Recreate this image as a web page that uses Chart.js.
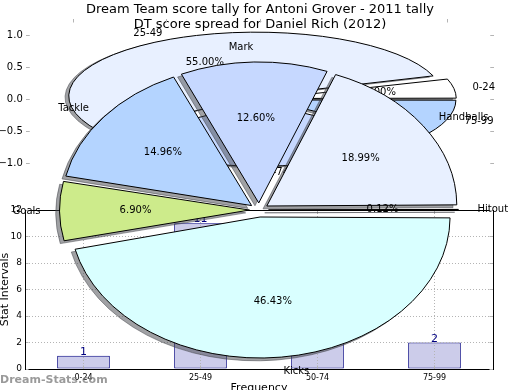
<!DOCTYPE html>
<html><head><meta charset="utf-8">
<script src="https://cdn.jsdelivr.net/npm/chart.js@4/dist/chart.umd.min.js"></script>
<style>
html,body{margin:0;padding:0;background:#fff;}
#wrap{position:relative;width:520px;height:390px;overflow:hidden;}
#wrap canvas{position:absolute;left:0;top:0;}
</style></head><body>
<div id="wrap">
<canvas id="bar" width="520" height="390"></canvas>
<canvas id="pie1" width="520" height="390"></canvas>
<canvas id="pie2" width="520" height="390"></canvas>
</div>
<script>
// ---- data ----
const titleMain = 'Dream Team score tally for Antoni Grover - 2011 tally';
const titleSub = 'DT score spread for Daniel Rich (2012)';
const intervals = ['0-24', '25-49', '50-74', '75-99'];
const tallyCounts = [1, 11, 6, 2];
const statNames = ['Hitout', 'Handballs', 'Mark', 'Tackle', 'Goals', 'Kicks'];
const statShares = [0.12, 18.99, 12.60, 14.96, 6.90, 46.43];
const barTicks = [0, 2, 4, 6, 8, 10, 12];
const pieTicks = [-1, -0.5, 0, 0.5, 1];
const watermark = 'Dream-Stats.com';

// ---- style ----
const tallyColors = ['#ffffff', '#e8f0ff', '#c6d8ff', '#b4d4ff'];
const statColors = ['#ffffff', '#e8f0ff', '#c6d8ff', '#b4d4ff', '#cdeb8b', '#d9ffff'];
const FONT = "'DejaVu Sans', sans-serif";
Chart.defaults.font.family = FONT;
Chart.defaults.color = '#000';
const R0 = 100, EXPLODE = 0.05, SHADOW = 0.02;
const GRAY = '#b4b4b4';

function ellipsePie(geomFn) {
  return {
    id: 'ellipsePie',
    beforeDatasetsDraw(chart) {
      const ctx = chart.ctx;
      const meta = chart.getDatasetMeta(0);
      const arcs = meta.data;
      const ds = chart.data.datasets[0];
      const total = ds.data.reduce((a, b) => a + b, 0);
      const g = geomFn(chart);
      const R = meta.controller.outerRadius;
      arcs.forEach(a => {
        const circ = a.endAngle - a.startAngle;
        const off = (a.options.offset || 0) / 4;
        a.outerRadius = R - off * (1 - Math.sin(Math.min(Math.PI, circ)));
      });
      const origStroke = ctx.stroke;
      ctx.stroke = function (...args) { this.save(); this.setTransform(1, 0, 0, 1, 0, 0); origStroke.apply(this, args); this.restore(); };
      const toEllipse = () => {
        ctx.translate(g.cx, g.cy);
        ctx.scale(g.rx / R, -g.ry / R);
        ctx.translate(-arcs[0].x, -arcs[0].y);
      };
      // shadows (all behind wedges)
      ctx.save();
      ctx.shadowColor = 'rgba(66,68,74,0.5)';
      ctx.shadowBlur = 0;
      ctx.shadowOffsetX = 10000 - SHADOW * g.rx;
      ctx.shadowOffsetY = SHADOW * g.ry;
      ctx.translate(-10000, 0);
      toEllipse();
      arcs.forEach(a => a.draw(ctx));
      ctx.restore();
      // wedges
      ctx.save();
      toEllipse();
      arcs.forEach(a => a.draw(ctx));
      ctx.restore();
      delete ctx.stroke;
      // labels
      ctx.save();
      ctx.font = '10px ' + FONT;
      ctx.fillStyle = '#000';
      ctx.textBaseline = 'middle';
      arcs.forEach((a, i) => {
        const mid = (a.startAngle + a.endAngle) / 2;
        const E = (a.options.offset || 0) / 4;
        const c = Math.cos(mid), s = Math.sin(mid);
        const at = f => [g.cx + g.rx / R * (E + f * R) * c, g.cy - g.ry / R * (E + f * R) * s];
        const [lx, ly] = at(1.1);
        ctx.textAlign = c > -1e-9 ? 'left' : 'right';
        ctx.fillText(chart.data.labels[i], lx, ly);
        const [px, py] = at(0.6);
        ctx.textAlign = 'center';
        ctx.fillText((ds.data[i] / total * 100).toFixed(2) + '%', px, py);
      });
      ctx.restore();
      return false;
    }
  };
}

// ---- bar chart ----
const barDecor = {
  id: 'barDecor',
  afterDraw(chart) {
    const ctx = chart.ctx;
    const meta = chart.getDatasetMeta(0);
    ctx.save();
    ctx.font = '11px ' + FONT;
    ctx.fillStyle = '#000080';
    ctx.textAlign = 'center';
    ctx.textBaseline = 'alphabetic';
    meta.data.forEach((b, i) => ctx.fillText(String(chart.data.datasets[0].data[i]), b.x, b.y - 1));
    ctx.font = 'bold 11px ' + FONT;
    ctx.fillStyle = 'rgba(120,120,120,0.75)';
    ctx.textAlign = 'left';
    ctx.textBaseline = 'middle';
    ctx.fillText(watermark, 0, 380);
    ctx.font = '13px ' + FONT;
    ctx.fillStyle = '#000';
    ctx.textAlign = 'center';
    ctx.fillText(titleMain, 260, 10);
    ctx.fillText(titleSub, 260, 25);
    ctx.restore();
  }
};

new Chart(document.getElementById('bar'), {
  type: 'bar',
  data: {
    labels: intervals,
    datasets: [{
      data: tallyCounts, backgroundColor: '#ccccea', borderColor: '#000080',
      borderWidth: 1, borderSkipped: false, barPercentage: 0.45, categoryPercentage: 1
    }]
  },
  options: {
    responsive: false, animation: false, events: [],
    layout: { padding: 0 },
    plugins: { legend: { display: false }, tooltip: { enabled: false }, title: { display: false } },
    scales: {
      x: {
        position: 'bottom',
        afterFit: s => { s.height = 21; },
        grid: { offset: false, drawTicks: true, tickLength: -3.5, color: GRAY, tickColor: GRAY, z: 1 },
        border: { display: true, color: '#000', dash: [1, 2], z: 1 },
        ticks: { font: { size: 8 }, color: '#000', padding: 7.5, maxRotation: 0, z: 1 },
        title: { display: true, text: 'Frequency', font: { size: 11 }, color: '#000', padding: { top: 0, bottom: -5 } }
      },
      xTop: {
        type: 'category', position: 'top',
        afterFit: s => { s.height = 210; },
        grid: { offset: false, drawOnChartArea: false, drawTicks: true, tickLength: -3.5, color: GRAY, z: 1 },
        ticks: { display: false },
        border: { display: true, color: '#000', z: 1 }
      },
      y: {
        position: 'left', min: 0, max: 12,
        afterFit: s => { s.width = 25; },
        afterBuildTicks: s => { s.ticks = barTicks.map(v => ({ value: v })); },
        grid: {
          drawTicks: true, tickLength: -3.5, tickColor: GRAY, z: 1,
          color: c => (c.tick && (c.tick.value === 0 || c.tick.value === 12)) ? 'rgba(0,0,0,0)' : GRAY
        },
        border: { display: true, color: '#000', dash: [1, 2], z: 1 },
        ticks: { font: { size: 9 }, color: '#000', padding: 6.5, z: 1 },
        title: { display: true, text: 'Stat Intervals', font: { size: 11 }, color: '#000', padding: { top: -1, bottom: 0 } }
      },
      yRight: {
        type: 'linear', position: 'right', min: 0, max: 12,
        afterFit: s => { s.width = 27; },
        afterBuildTicks: s => { s.ticks = barTicks.map(v => ({ value: v })); },
        grid: { drawOnChartArea: false, drawTicks: true, tickLength: -3.5, color: GRAY, z: 1 },
        ticks: { display: false },
        border: { display: true, color: '#000', z: 1 }
      }
    }
  },
  plugins: [barDecor]
});

// ---- pie 1 (tally) ----
new Chart(document.getElementById('pie1'), {
  type: 'pie',
  data: {
    labels: intervals,
    datasets: [{
      data: tallyCounts, backgroundColor: tallyColors, borderColor: '#000', borderWidth: 1,
      offset: 4 * EXPLODE * R0, radius: R0, rotation: 90, clip: false
    }]
  },
  options: {
    responsive: false, animation: false, events: [],
    layout: { padding: { bottom: 211 } },
    plugins: { legend: { display: false }, tooltip: { enabled: false }, title: { display: false } },
    scales: {
      x: {
        type: 'linear', position: 'top', min: -1.25, max: 1.25,
        afterFit: s => { s.height = 19; },
        afterBuildTicks: s => { s.ticks = pieTicks.map(v => ({ value: v })); },
        ticks: { display: false },
        grid: { drawOnChartArea: false, drawTicks: true, tickLength: -3.5, color: GRAY, tickColor: GRAY },
        border: { display: false }
      },
      y: {
        type: 'linear', position: 'left', min: -1.25, max: 1.25,
        afterFit: s => { s.width = 26.25; },
        afterBuildTicks: s => { s.ticks = pieTicks.map(v => ({ value: v })); },
        ticks: { font: { size: 10 }, color: '#000', padding: 7, callback: v => (v < 0 ? '\u2212' : '') + Math.abs(v).toFixed(1) },
        grid: { drawOnChartArea: false, drawTicks: true, tickLength: -3.5, color: GRAY, tickColor: GRAY },
        border: { display: false }
      },
      y2: {
        type: 'linear', position: 'right', min: -1.25, max: 1.25,
        afterFit: s => { s.width = 26.25; },
        afterBuildTicks: s => { s.ticks = pieTicks.map(v => ({ value: v })); },
        ticks: { display: false },
        grid: { drawOnChartArea: false, drawTicks: true, tickLength: -3.5, color: GRAY, tickColor: GRAY },
        border: { display: false }
      }
    }
  },
  plugins: [ellipsePie(chart => {
    const x = chart.scales.x, y = chart.scales.y;
    const cx = x.getPixelForValue(0), cy = y.getPixelForValue(0);
    return { cx, cy, rx: x.getPixelForValue(1) - cx, ry: cy - y.getPixelForValue(1) };
  })]
});

// ---- pie 2 (stat spread) ----
new Chart(document.getElementById('pie2'), {
  type: 'pie',
  data: {
    labels: statNames,
    datasets: [{
      data: statShares, backgroundColor: statColors, borderColor: '#000', borderWidth: 1,
      offset: 4 * EXPLODE * R0, radius: R0, rotation: 90, clip: false
    }]
  },
  options: {
    responsive: false, animation: false, events: [],
    layout: { padding: { left: 69, right: 71, top: 69, bottom: 39 } },
    plugins: { legend: { display: false }, tooltip: { enabled: false }, title: { display: false } }
  },
  plugins: [ellipsePie(chart => {
    const a = chart.chartArea;
    return { cx: (a.left + a.right) / 2, cy: (a.top + a.bottom) / 2, rx: (a.right - a.left) / 2, ry: (a.bottom - a.top) / 2 };
  })]
});
</script>
</body></html>
